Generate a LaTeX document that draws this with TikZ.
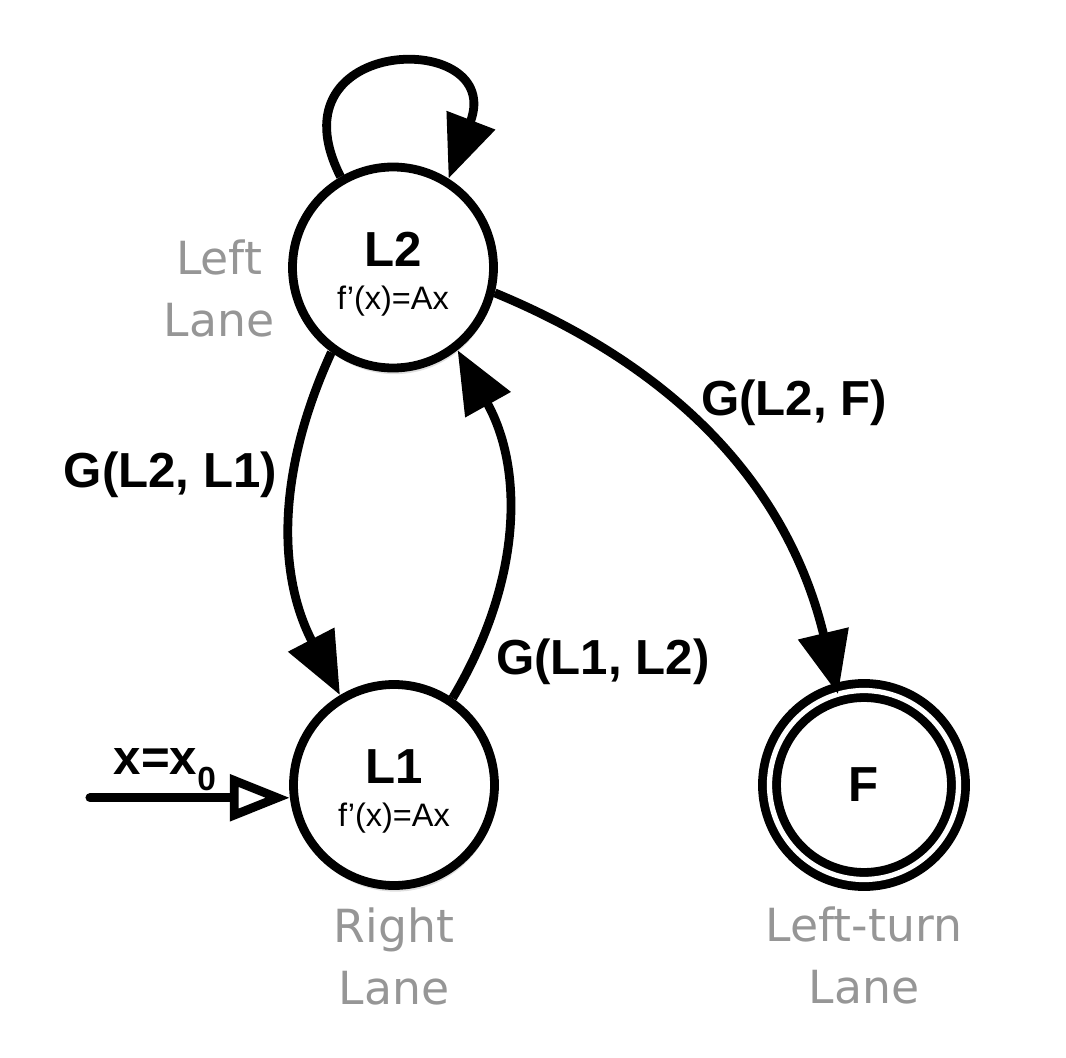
\documentclass[tikz,border=0pt]{standalone}
\usepackage{fontspec}
\setmainfont{Liberation Sans}
\newfontfamily\notefont{DejaVu Sans}
\usetikzlibrary{arrows.meta,positioning,shadows}
\definecolor{notegray}{RGB}{150,150,150}

\begin{document}
\begin{tikzpicture}[
		lane/.style = {circle, draw, line width=5pt, fill=white, minimum size=4.02cm, inner sep=0pt, align=center,
				font=\fontsize{18.5}{24.5}\selectfont,
				drop shadow={opacity=0.25, shadow xshift=0.8pt, shadow yshift=-3.5pt}},
		final/.style = {lane, double, double distance=3pt, minimum size=3.78cm, outer sep=0pt},
		trans/.style = {line width=5pt, -{Triangle[length=1.25cm, width=1cm]}},
		initial/.style = {line width=5pt, line cap=round, -{Triangle[open, length=1.2cm, width=0.9cm]}},
		edgelabel/.style = {font=\fontsize{28}{28}\selectfont\bfseries, inner sep=3pt},
		note/.style = {font=\notefont\fontsize{26}{35}\selectfont, text=notegray, align=center, inner sep=0pt},
	]
	\path[use as bounding box] (0,0) rectangle (21.32,-21.16);
	\node[lane] (L2) at (7.86,-5.35) {{\fontsize{28}{28}\selectfont\bfseries\rule{0pt}{27pt}L2}\\f’(x)=Ax};
	\node[lane] (L1) at (7.88,-15.70) {{\fontsize{28}{28}\selectfont\bfseries\rule{0pt}{27pt}L1}\\f’(x)=Ax};
	\node[final, font=\fontsize{28}{28}\selectfont\bfseries] (F) at (17.28,-15.70) {F};
	\node[note, left=0.27cm of L2, yshift=-0.42cm] (L2note) {Left\\Lane};
	\node[note, below=0.36cm of L1] (L1note) {Right\\Lane};
	\node[note, below=0.54cm of F] (Fnote) {Left-turn\\Lane};
	\coordinate[left=4cm of L1.187] (init);
	\draw[initial] (init) -- node[edgelabel, above, pos=0.375, yshift=-0.06cm] {x=x\raisebox{-9.5pt}{\fontsize{19}{19}\selectfont 0}} (L1.187);
	\draw[trans] (L2.120) to[out=117, in=69, looseness=3.8] (L2.58);
	\draw[trans] (L2.234) to[bend right=26] node[edgelabel, left, pos=0.35, xshift=-0.15cm] {G(L2, L1)} (L1.121);
	\draw[trans] (L1.56) to[bend right=30] node[edgelabel, right, pos=0.1, xshift=0.3cm, yshift=0.02cm] {G(L1, L2)} (L2.308);
	\draw[trans] (L2.346) to[bend left=27] node[edgelabel, right, pos=0.42, yshift=0.3cm] {G(L2, F)} (F.106);
\end{tikzpicture}
\end{document}
